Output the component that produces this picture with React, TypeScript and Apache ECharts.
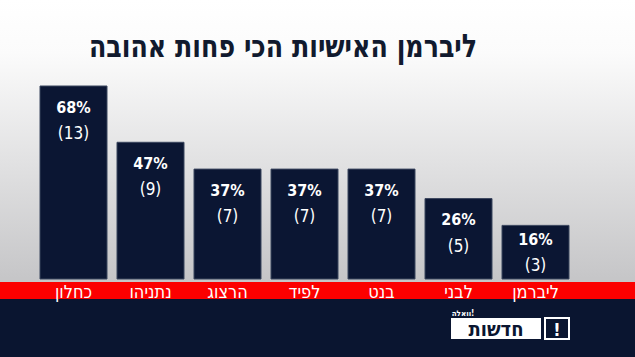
import React, { useEffect, useRef } from "react";
import * as echarts from "echarts";

const categories = ["כחלון", "נתניהו", "הרצוג", "לפיד", "בנט", "לבני", "ליברמן"];
const percents = [68, 47, 37, 37, 37, 26, 16];
const counts = [13, 9, 7, 7, 7, 5, 3];
const title = "ליברמן האישיות הכי פחות אהובה";
const axisMin = -4;
const axisMax = 68;

const NARROW = "'Liberation Sans Narrow', 'DejaVu Sans Condensed', 'Noto Sans', sans-serif";

export default function App() {
  const ref = useRef<HTMLDivElement>(null);
  useEffect(() => {
    if (!ref.current) return;
    const chart = echarts.init(ref.current, null, { renderer: "svg" });
    const BAR_W = 67;
    chart.setOption({
      animation: false,
      backgroundColor: new echarts.graphic.LinearGradient(0, 0, 0, 1, [
        { offset: 0, color: "#ffffff" },
        { offset: 0.15, color: "#fbfbfb" },
        { offset: 0.78, color: "#c6c6c8" },
        { offset: 1, color: "#c0c0c2" },
      ]),
      grid: { left: 35, right: 61, top: 86, bottom: 78 },
      xAxis: {
        type: "category",
        data: categories,
        axisLine: { show: false },
        axisTick: { show: false },
        axisLabel: {
          color: "#ffffff",
          fontSize: 18,
          fontFamily: NARROW,
          margin: 3,
        },
      },
      yAxis: {
        type: "value",
        min: axisMin,
        max: axisMax,
        show: false,
        splitLine: { show: false },
      },
      graphic: [
        { type: "rect", z: -1, shape: { x: 0, y: 282, width: 635, height: 17 }, style: { fill: "#fc0000" } },
        { type: "rect", z: -1, shape: { x: 0, y: 299, width: 635, height: 58 }, style: { fill: "#0a1530" } },
        {
          type: "text",
          x: 283,
          y: 46,
          scaleX: 0.88,
          style: {
            text: title,
            fill: "#111a2e",
            font: `bold 32px ${NARROW}`,
            textAlign: "center",
            textVerticalAlign: "middle",
          },
        },
        { type: "rect", shape: { x: 451, y: 318, width: 90, height: 21 }, style: { fill: "#ffffff" } },
        {
          type: "text",
          x: 496,
          y: 329,
          style: { text: "חדשות", fill: "#0a1530", font: `bold 20px ${NARROW}`, textAlign: "center", textVerticalAlign: "middle" },
        },
        { type: "rect", shape: { x: 545, y: 318, width: 24, height: 21 }, style: { fill: "none", stroke: "#ffffff", lineWidth: 2 } },
        {
          type: "text",
          x: 557,
          y: 329,
          style: { text: "!", fill: "#ffffff", font: `bold 18px ${NARROW}`, textAlign: "center", textVerticalAlign: "middle" },
        },
        {
          type: "text",
          x: 463,
          y: 313,
          style: { text: "וואלה!", fill: "#ffffff", font: `bold 8px ${NARROW}`, textAlign: "center", textVerticalAlign: "middle" },
        },
      ],
      series: [
        {
          type: "custom",
          coordinateSystem: "cartesian2d",
          encode: { x: 0, y: 1 },
          data: percents.map((v, i) => [i, v]),
          renderItem: (params: any, api: any) => {
            const idx = api.value(0);
            const val = api.value(1);
            const top = api.coord([idx, val]);
            const base = api.coord([idx, axisMin]);
            const h = base[1] - top[1];
            const firstCenter = top[1] + Math.min(21, (h - 52) / 2 + 13);
            return {
              type: "group",
              children: [
                {
                  type: "rect",
                  shape: { x: top[0] - BAR_W / 2, y: top[1], width: BAR_W, height: h },
                  style: { fill: "#0b1633", stroke: "#3b465e", lineWidth: 1 },
                },
                {
                  type: "text",
                  x: top[0],
                  y: firstCenter,
                  style: {
                    text: `${percents[params.dataIndex]}%`,
                    fill: "#ffffff",
                    font: `bold 16px ${NARROW}`,
                    align: "center",
                    verticalAlign: "middle",
                  },
                },
                {
                  type: "text",
                  x: top[0],
                  y: firstCenter + 26,
                  style: {
                    text: `(${counts[params.dataIndex]})`,
                    fill: "#ffffff",
                    font: `17px ${NARROW}`,
                    align: "center",
                    verticalAlign: "middle",
                  },
                },
              ],
            };
          },
        },
      ],
    });
    return () => chart.dispose();
  }, []);
  return (
    <div
      ref={ref}
      style={{ position: "fixed", left: 0, top: 0, width: 635, height: 357 }}
    />
  );
}
